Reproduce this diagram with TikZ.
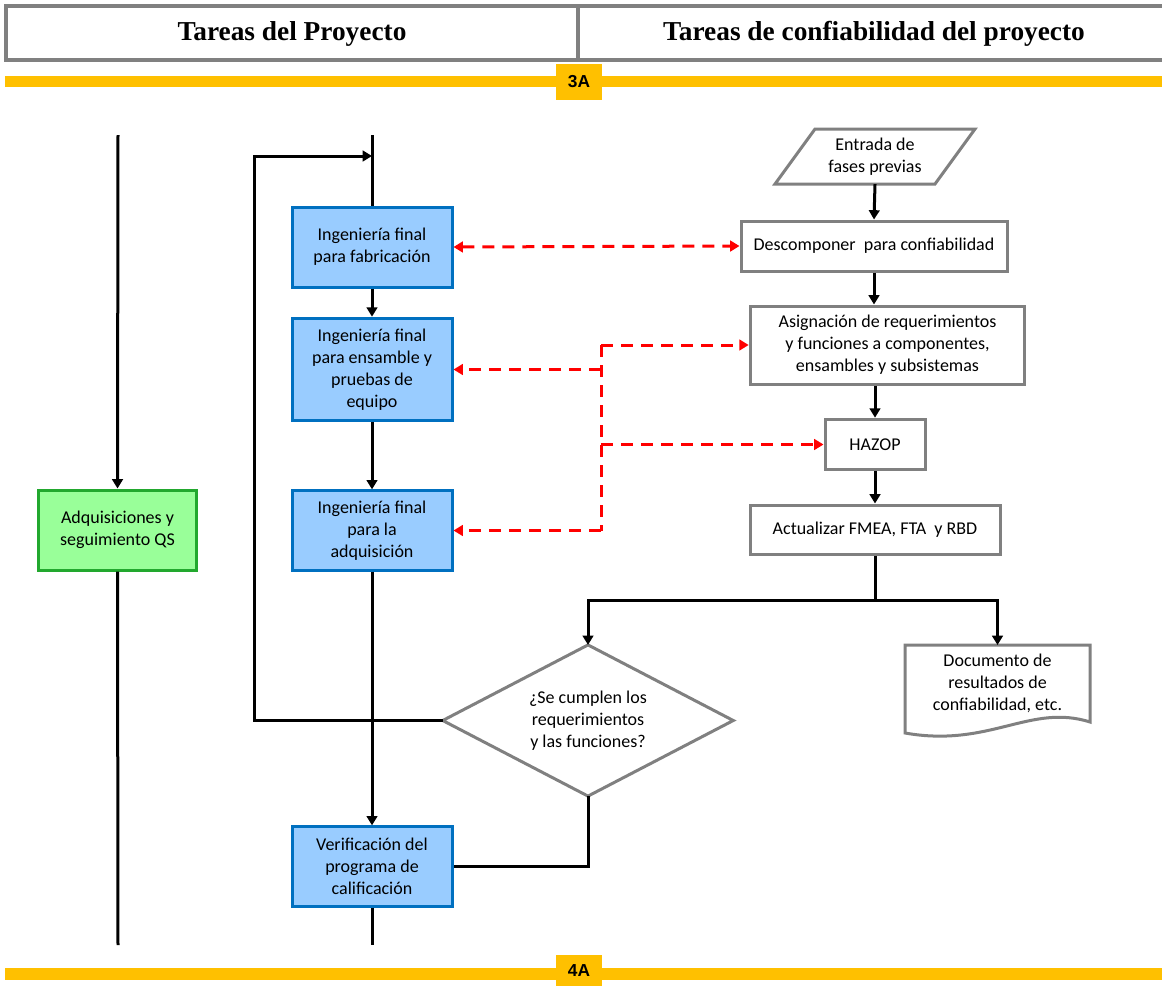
\documentclass[tikz,border=0pt]{standalone}
\usepackage{fontspec}
\setmainfont{Carlito}
\newfontfamily\hdrfont{Liberation Serif}
\newfontfamily\tagfont{Liberation Sans}
\usetikzlibrary{arrows.meta,shapes.geometric,calc}
\definecolor{ygold}{HTML}{FFC000}
\definecolor{bfill}{HTML}{99CCFF}
\definecolor{bline}{HTML}{0070C0}
\definecolor{gfill}{HTML}{99FF99}
\definecolor{gline}{HTML}{22A82E}
\definecolor{gbord}{HTML}{808080}
\tikzset{
  txt/.style={font=\fontsize{13.5}{16.4}\selectfont, align=center, inner sep=0pt},
  bluebox/.style={txt, draw=bline, fill=bfill, line width=2.25pt, minimum width=120pt},
  greenbox/.style={txt, draw=gline, fill=gfill, line width=2.25pt, minimum width=119pt, minimum height=60pt},
  graybox/.style={txt, draw=gbord, fill=white, line width=2.25pt},
  blk/.style={line width=2.25pt, black},
  arr/.style={blk, -{Triangle[length=7pt,width=8pt]}},
  rd/.style={line width=2.25pt, red, dash pattern=on 9pt off 6pt},
  rarr/.style={rd, -{Triangle[length=7pt,width=8pt]}},
  tagbox/.style={fill=ygold, minimum width=34.5pt, inner sep=0pt, font=\tagfont\bfseries\fontsize{13}{14}\selectfont},
  hdr/.style={font=\hdrfont\bfseries\fontsize{20.5}{24}\selectfont},
  shapeline/.style={gbord, line width=2.25pt, line join=miter, fill=white},
}
\begin{document}
\begin{tikzpicture}[x=0.75pt,y=-0.75pt]
\useasboundingbox (0,0) rectangle (1162,985);
% header
\draw[gbord, line width=3pt, fill=white] (6,6) rectangle (1170,60);
\draw[gbord, line width=3pt] (578,6) -- (578,60);
\node[hdr] (h1) at (292,34) {Tareas del Proyecto};
\node[hdr] (h2) at (874,34) {Tareas de confiabilidad del proyecto};
% yellow bars
\fill[ygold] (5,76) rectangle (1162,87);
\node[tagbox, minimum height=27pt] (t3) at (579,82) {3A};
\fill[ygold] (5,968) rectangle (1162,980);
\node[tagbox, minimum height=24pt] (t4) at (579,971) {4A};

% left column
\node[greenbox] (adq) at (117.5,530) {Adquisiciones y\\seguimiento QS};
\coordinate (lt) at (118,135);
\coordinate (lb) at (118,945);
\draw[arr] (lt) -- (adq.north);
\draw[blk] (adq.south) -- (lb);

% middle column
\node[bluebox, minimum height=60pt] (b1) at (372,247) {Ingeniería final\\para fabricación};
\node[bluebox, minimum height=77pt] (b2) at (372,369.5) {Ingeniería final\\para ensamble y\\pruebas de\\equipo};
\node[bluebox, minimum height=59.5pt] (b3) at (372,530.5) {Ingeniería final\\para la\\adquisición};
\node[bluebox, minimum height=59.5pt] (b4) at (372,866.5) {Verificación del\\programa de\\calificación};
\coordinate (mt) at (372,135);
\coordinate (mb) at (372,945);
\coordinate (loopin) at (372,156);
\draw[blk] (mt) -- (b1.north);
\draw[arr] (b1) -- (b2);
\draw[arr] (b2) -- (b3);
\draw[arr] (b3) -- (b4);
\draw[blk] (b4.south) -- (mb);

% right column
\draw[shapeline] (815,129) -- (975,129) -- (935,184) -- (775,184) -- cycle;
\node[txt, minimum width=120pt, minimum height=41pt] (ent) at (875,156.5) {Entrada de\\fases previas};
\node[graybox, minimum width=199.5pt, minimum height=37.5pt] (desc) at (874,246) {Descomponer\ \ para confiabilidad};
\node[graybox, minimum width=206pt, minimum height=58.5pt] (asig) at (887.5,345) {Asignación de requerimientos\\y funciones a componentes,\\ensambles y subsistemas};
\node[graybox, minimum width=75pt, minimum height=38pt] (haz) at (875,444.5) {HAZOP};
\node[graybox, minimum width=187.5pt, minimum height=36.75pt] (act) at (875,529.5) {Actualizar FMEA, FTA\ \ y RBD};
% decision diamond
\node[txt, minimum width=217.5pt, minimum height=113pt] (dia) at (588,720.5) {\phantom{x}};
\draw[shapeline] (dia.north) -- (dia.east) -- (dia.south) -- (dia.west) -- cycle;
\node[txt] (diatext) at (dia.center) {¿Se cumplen los\\requerimientos\\y las funciones?};
% document
\draw[shapeline]
  (905,645) -- (1090,645) -- (1090,722) .. controls (1030,703) and (990,748) .. (905,733) -- cycle;
\node[txt, minimum width=138pt, minimum height=57pt, anchor=north] (doc) at (997.5,645) {Documento de\\resultados de\\confiabilidad, etc.};

\draw[arr] (ent.south) -- (desc.north);
\draw[arr] (desc) -- (asig.north -| desc.south);
\draw[arr] (asig.south -| haz.north) -- (haz.north);
\draw[arr] (haz) -- (act);
\coordinate (split) at (875,600);
\draw[blk] (act.south) -- (split);
\draw[arr] (split) -| (dia.north);
\draw[arr] (split) -| (doc.north);

% loop back
\draw[arr, line join=miter] (dia.west) -- (254,720.5) -- (254,156) -- (loopin);
\draw[blk, line join=miter] (dia.south) |- (b4.east);

% red dashed
\draw[rd, {Triangle[length=7pt,width=8pt]}-{Triangle[length=7pt,width=8pt]}] (b1.east) -- (desc.west);
\coordinate (rj) at (601,345);
\coordinate (rb) at (601,530.5);
\draw[rd] (rj) -- (rb);
\draw[rarr] (rj) -- (asig.west);
\draw[rarr] (rj |- b2.east) -- (b2.east);
\draw[rarr] (rj |- haz.west) -- (haz.west);
\draw[rarr] (rb) -- (b3.east);
\end{tikzpicture}
\end{document}
